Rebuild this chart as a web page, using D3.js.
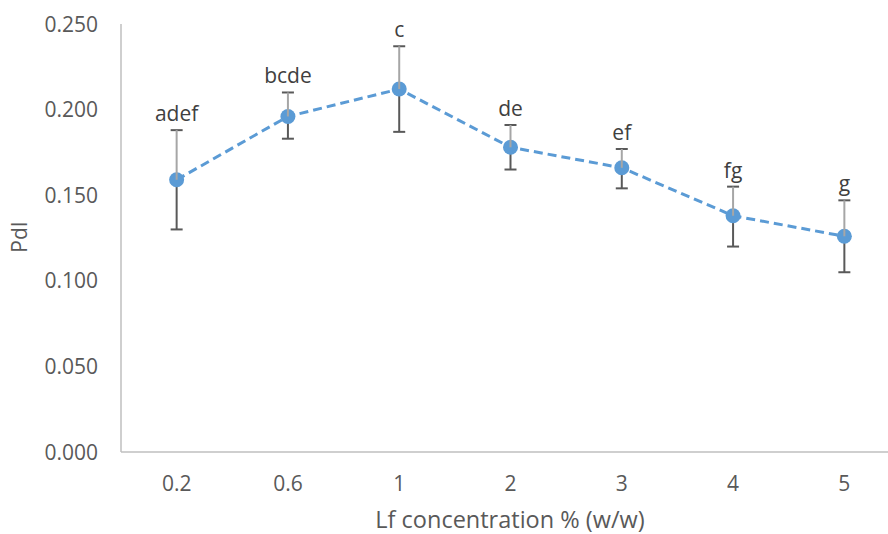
<!DOCTYPE html>
<html>
<head>
<meta charset="utf-8">
<script src="https://cdn.jsdelivr.net/npm/d3@7"></script>
<style>
  html, body { margin: 0; padding: 0; background: #fff; }
  svg { display: block; }
  text { font-family: "Open Sans", sans-serif; fill: #595959; }
</style>
</head>
<body>
<svg id="chart" width="888" height="534"></svg>
<script>
const categories = ["0.2", "0.6", "1", "2", "3", "4", "5"];
const values     = [0.159, 0.196, 0.212, 0.178, 0.166, 0.138, 0.126];
const errUpper   = [0.188, 0.210, 0.237, 0.191, 0.177, 0.155, 0.147];
const errLower   = [0.130, 0.183, 0.187, 0.165, 0.154, 0.120, 0.105];
const letters    = ["adef", "bcde", "c", "de", "ef", "fg", "g"];
const yTicks     = [0, 0.05, 0.10, 0.15, 0.20, 0.25];

const svg = d3.select("#chart");
const x0 = 121, x1 = 900, yTop = 24, yBot = 452;

const x = d3.scaleBand().domain(categories).range([x0, x1]).paddingInner(0).paddingOuter(0);
const y = d3.scaleLinear().domain([0, 0.25]).range([yBot, yTop]);
const cx = d => x(d) + x.bandwidth() / 2;

// axes lines
svg.append("line").attr("x1", x0).attr("x2", x0).attr("y1", yTop).attr("y2", yBot)
  .attr("stroke", "#bfbfbf").attr("stroke-width", 1.5);
svg.append("line").attr("x1", x0).attr("x2", 888).attr("y1", yBot).attr("y2", yBot)
  .attr("stroke", "#bfbfbf").attr("stroke-width", 1.5);

// y tick labels
svg.append("g").selectAll("text").data(yTicks).join("text")
  .attr("x", 98).attr("y", d => y(d)).attr("dy", "0.36em")
  .attr("text-anchor", "end").attr("font-size", 21)
  .text(d => d3.format(".3f")(d));

// x tick labels
svg.append("g").selectAll("text").data(categories).join("text")
  .attr("x", d => cx(d)).attr("y", 491)
  .attr("text-anchor", "middle").attr("font-size", 21)
  .text(d => d);

// axis titles
svg.append("text").attr("x", 510).attr("y", 528).attr("text-anchor", "middle")
  .attr("font-size", 23.5).text("Lf concentration % (w/w)");
svg.append("text").attr("transform", "translate(27,237) rotate(-90)")
  .attr("text-anchor", "middle").attr("font-size", 21).text("PdI");

const pts = categories.map((c, i) => ({ c, v: values[i], hi: errUpper[i], lo: errLower[i], lab: letters[i] }));

// line
svg.append("path").datum(pts)
  .attr("d", d3.line().x(d => cx(d.c)).y(d => y(d.v)))
  .attr("fill", "none").attr("stroke", "#5b9bd5").attr("stroke-width", 3)
  .attr("stroke-dasharray", "9,5");

// error bars
const eb = svg.append("g");
pts.forEach(d => {
  const xc = cx(d.c);
  eb.append("line").attr("x1", xc).attr("x2", xc).attr("y1", y(d.v)).attr("y2", y(d.lo))
    .attr("stroke", "#595959").attr("stroke-width", 2);
  eb.append("line").attr("x1", xc - 6).attr("x2", xc + 6).attr("y1", y(d.lo)).attr("y2", y(d.lo))
    .attr("stroke", "#595959").attr("stroke-width", 2);
  eb.append("line").attr("x1", xc - 6).attr("x2", xc + 6).attr("y1", y(d.hi)).attr("y2", y(d.hi))
    .attr("stroke", "#595959").attr("stroke-width", 2);
});

// markers
svg.append("g").selectAll("circle").data(pts).join("circle")
  .attr("cx", d => cx(d.c)).attr("cy", d => y(d.v)).attr("r", 7.5)
  .attr("fill", "#5b9bd5");

// upper stems (lighter, drawn over markers)
svg.append("g").selectAll("line").data(pts).join("line")
  .attr("x1", d => cx(d.c)).attr("x2", d => cx(d.c))
  .attr("y1", d => y(d.v)).attr("y2", d => y(d.hi))
  .attr("stroke", "#a6a6a6").attr("stroke-width", 2);

// letter labels
svg.append("g").selectAll("text").data(pts).join("text")
  .attr("x", d => cx(d.c)).attr("y", d => y(d.hi) - 9)
  .attr("text-anchor", "middle").attr("font-size", 21)
  .style("fill", "#404040")
  .text(d => d.lab);
</script>
</body>
</html>
